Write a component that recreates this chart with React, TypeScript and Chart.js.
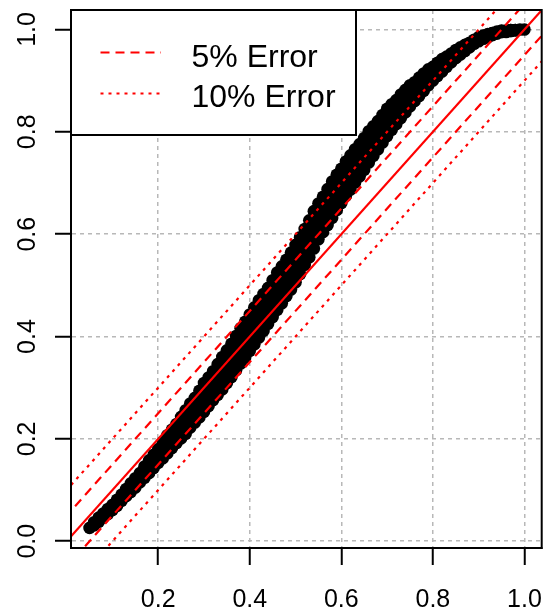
import { useEffect, useRef } from 'react';
import { Chart, registerables } from 'chart.js';

Chart.register(...registerables);

// Observations (band centre)
const xObs = [
  0.05, 0.06, 0.07, 0.08, 0.09, 0.10, 0.11, 0.12, 0.13, 0.14, 0.15, 0.16, 0.17, 0.18, 0.19, 0.20,
  0.21, 0.22, 0.23, 0.24, 0.25, 0.26, 0.27, 0.28, 0.29, 0.30, 0.31, 0.32, 0.33, 0.34, 0.35, 0.36,
  0.37, 0.38, 0.39, 0.40, 0.41, 0.42, 0.43, 0.44, 0.45, 0.46, 0.47, 0.48, 0.49, 0.50, 0.51, 0.52,
  0.53, 0.54, 0.55, 0.56, 0.57, 0.58, 0.59, 0.60, 0.61, 0.62, 0.63, 0.64, 0.65, 0.66, 0.67, 0.68,
  0.69, 0.70, 0.71, 0.72, 0.73, 0.74, 0.75, 0.76, 0.77, 0.78, 0.79, 0.80, 0.81, 0.82, 0.83, 0.84,
  0.85, 0.86, 0.87, 0.88, 0.89, 0.90, 0.91, 0.92, 0.93, 0.94, 0.95, 0.96, 0.97, 0.98, 0.99, 1.00,
];
const yObs = [
  0.026, 0.034, 0.042, 0.050, 0.058, 0.066, 0.075, 0.085, 0.095, 0.104, 0.114, 0.124, 0.135, 0.145, 0.156, 0.167,
  0.178, 0.189, 0.200, 0.211, 0.222, 0.233, 0.245, 0.256, 0.268, 0.280, 0.292, 0.304, 0.316, 0.328, 0.341, 0.354,
  0.367, 0.381, 0.394, 0.408, 0.421, 0.434, 0.447, 0.460, 0.474, 0.488, 0.501, 0.515, 0.528, 0.542, 0.558, 0.575,
  0.591, 0.608, 0.625, 0.639, 0.653, 0.667, 0.681, 0.695, 0.708, 0.720, 0.733, 0.745, 0.757, 0.770, 0.782, 0.794,
  0.806, 0.818, 0.829, 0.839, 0.850, 0.860, 0.870, 0.879, 0.888, 0.897, 0.906, 0.914, 0.922, 0.930, 0.937, 0.945,
  0.952, 0.958, 0.964, 0.970, 0.976, 0.981, 0.985, 0.988, 0.991, 0.994, 0.996, 0.997, 0.998, 0.999, 1.000, 1.000,
];

// Observations (outer band rows, even x)
const xEdge = [
  0.06, 0.08, 0.10, 0.12, 0.14, 0.16, 0.18, 0.20, 0.22, 0.24, 0.26, 0.28, 0.30, 0.32, 0.34, 0.36,
  0.38, 0.40, 0.42, 0.44, 0.46, 0.48, 0.50, 0.52, 0.54, 0.56, 0.58, 0.60, 0.62, 0.64, 0.66, 0.68,
  0.70, 0.72, 0.74, 0.76, 0.78, 0.80, 0.82, 0.84, 0.86, 0.88, 0.90, 0.92, 0.94, 0.96, 0.98,
];
const yEdgeUpper = [
  0.037, 0.054, 0.071, 0.091, 0.113, 0.133, 0.158, 0.180, 0.207, 0.229, 0.256, 0.280, 0.309, 0.332, 0.360, 0.386,
  0.416, 0.443, 0.471, 0.495, 0.525, 0.550, 0.579, 0.610, 0.645, 0.673, 0.703, 0.728, 0.754, 0.776, 0.801, 0.821,
  0.845, 0.862, 0.882, 0.897, 0.914, 0.927, 0.942, 0.953, 0.965, 0.974, 0.985, 0.991, 0.996, 0.998, 0.999,
];
const yEdgeLower = [
  0.031, 0.046, 0.061, 0.079, 0.096, 0.115, 0.133, 0.153, 0.172, 0.192, 0.210, 0.232, 0.253, 0.276, 0.297, 0.321,
  0.347, 0.372, 0.398, 0.425, 0.452, 0.479, 0.506, 0.540, 0.572, 0.604, 0.632, 0.661, 0.687, 0.713, 0.740, 0.766,
  0.792, 0.815, 0.838, 0.860, 0.880, 0.900, 0.918, 0.936, 0.951, 0.965, 0.977, 0.985, 0.992, 0.995, 0.998,
];

// Observations (odd x: inner and outer rows)
const xOdd = [
  0.07, 0.09, 0.11, 0.13, 0.15, 0.17, 0.19, 0.21, 0.23, 0.25, 0.27, 0.29, 0.31, 0.33, 0.35, 0.37,
  0.39, 0.41, 0.43, 0.45, 0.47, 0.49, 0.51, 0.53, 0.55, 0.57, 0.59, 0.61, 0.63, 0.65, 0.67, 0.69,
  0.71, 0.73, 0.75, 0.77, 0.79, 0.81, 0.83, 0.85, 0.87, 0.89, 0.91, 0.93, 0.95, 0.97,
];
const yInnerUpper = [
  0.044, 0.060, 0.078, 0.099, 0.119, 0.141, 0.163, 0.186, 0.209, 0.233, 0.257, 0.281, 0.306, 0.331, 0.357, 0.384,
  0.412, 0.439, 0.465, 0.492, 0.519, 0.546, 0.576, 0.609, 0.643, 0.671, 0.698, 0.725, 0.749, 0.773, 0.797, 0.820,
  0.842, 0.862, 0.880, 0.897, 0.914, 0.929, 0.942, 0.956, 0.967, 0.978, 0.987, 0.993, 0.997, 0.999,
];
const yInnerLower = [
  0.040, 0.056, 0.072, 0.091, 0.110, 0.129, 0.150, 0.170, 0.191, 0.212, 0.233, 0.255, 0.278, 0.301, 0.325, 0.350,
  0.377, 0.403, 0.429, 0.456, 0.483, 0.510, 0.540, 0.573, 0.607, 0.636, 0.664, 0.691, 0.717, 0.742, 0.768, 0.793,
  0.817, 0.839, 0.860, 0.879, 0.899, 0.916, 0.932, 0.948, 0.961, 0.974, 0.983, 0.990, 0.995, 0.997,
];
const yOuterUpper = [
  0.046, 0.063, 0.081, 0.102, 0.123, 0.146, 0.169, 0.194, 0.218, 0.243, 0.269, 0.294, 0.320, 0.346, 0.373, 0.401,
  0.429, 0.457, 0.483, 0.510, 0.537, 0.564, 0.594, 0.627, 0.660, 0.688, 0.716, 0.742, 0.766, 0.788, 0.811, 0.833,
  0.854, 0.873, 0.891, 0.906, 0.922, 0.935, 0.947, 0.960, 0.970, 0.980, 0.988, 0.993, 0.998, 0.999,
];
const yOuterLower = [
  0.038, 0.053, 0.069, 0.088, 0.105, 0.124, 0.143, 0.162, 0.182, 0.201, 0.222, 0.242, 0.264, 0.286, 0.309, 0.334,
  0.359, 0.385, 0.411, 0.438, 0.465, 0.492, 0.522, 0.555, 0.590, 0.618, 0.647, 0.675, 0.701, 0.726, 0.753, 0.779,
  0.804, 0.827, 0.850, 0.870, 0.891, 0.909, 0.927, 0.944, 0.958, 0.972, 0.982, 0.989, 0.995, 0.997,
];

// Reference lines (y = x, ±5 %, ±10 %)
const refX = [-0.2, 1.2];
const refY = [-0.2, 1.2];
const err5UpperY = [-0.15, 1.25];
const err5LowerY = [-0.25, 1.15];
const err10UpperY = [-0.1, 1.3];
const err10LowerY = [-0.3, 1.1];

const xTicks = [0.2, 0.4, 0.6, 0.8, 1.0];
const yTicks = [0.0, 0.2, 0.4, 0.6, 0.8, 1.0];
const legendLabels = ['5% Error', '10% Error'];

const FONT = "'Liberation Sans', Arial, Helvetica, sans-serif";
const RED = '#ff0000';
const DASH5 = [9, 6];
const DASH10 = [3, 5];

const toXY = (xs: number[], ys: number[]) => xs.map((x, i) => ({ x, y: ys[i] }));

const boxLegendPlugin = {
  id: 'boxLegend',
  afterDraw(chart: any) {
    const { ctx, chartArea: a } = chart;
    ctx.save();
    ctx.setLineDash([]);
    ctx.strokeStyle = '#000';
    ctx.lineWidth = 2;
    ctx.strokeRect(a.left, a.top, a.right - a.left, a.bottom - a.top);

    const lx = a.left;
    const ly = a.top;
    const lw = 285;
    const lh = 125;
    ctx.fillStyle = '#fff';
    ctx.fillRect(lx, ly, lw, lh);
    ctx.strokeRect(lx, ly, lw, lh);

    const rows = [
      { label: legendLabels[0], dash: DASH5, lineY: 52.5, baseY: 66.5 },
      { label: legendLabels[1], dash: DASH10, lineY: 93.5, baseY: 106.5 },
    ];
    rows.forEach((r) => {
      ctx.beginPath();
      ctx.setLineDash(r.dash);
      ctx.strokeStyle = RED;
      ctx.lineWidth = 2.2;
      ctx.moveTo(100.5, r.lineY);
      ctx.lineTo(161, r.lineY);
      ctx.stroke();
      ctx.setLineDash([]);
      ctx.fillStyle = '#000';
      ctx.font = `32px ${FONT}`;
      ctx.textAlign = 'left';
      ctx.textBaseline = 'alphabetic';
      ctx.fillText(r.label, 191.5, r.baseY);
    });
    ctx.restore();
  },
};

export default function App() {
  const ref = useRef<HTMLCanvasElement | null>(null);

  useEffect(() => {
    if (!ref.current) return;
    Chart.defaults.font.family = FONT;

    const lineDs = (label: string, ys: number[], dash: number[], order: number) => ({
      type: 'scatter' as const,
      label,
      data: toXY(refX, ys),
      showLine: true,
      borderColor: RED,
      backgroundColor: RED,
      borderWidth: 2.2,
      borderDash: dash,
      pointRadius: 0,
      pointHoverRadius: 0,
      clip: 0,
      order,
    });

    const chart = new Chart(ref.current, {
      type: 'scatter',
      data: {
        datasets: [
          {
            label: 'Observations',
            data: [
              ...toXY(xObs, yObs),
              ...toXY(xEdge, yEdgeUpper),
              ...toXY(xEdge, yEdgeLower),
              ...toXY(xOdd, yInnerUpper),
              ...toXY(xOdd, yInnerLower),
              ...toXY(xOdd, yOuterUpper),
              ...toXY(xOdd, yOuterLower),
            ],
            pointRadius: 6.3,
            pointHoverRadius: 6.3,
            backgroundColor: '#000',
            borderWidth: 0,
            order: 10,
          },
          lineDs('Exact', refY, [], 1),
          lineDs('5% Error upper', err5UpperY, DASH5, 2),
          lineDs('5% Error lower', err5LowerY, DASH5, 3),
          lineDs('10% Error upper', err10UpperY, DASH10, 4),
          lineDs('10% Error lower', err10LowerY, DASH10, 5),
        ] as any,
      },
      options: {
        responsive: false,
        animation: false,
        devicePixelRatio: 1,
        layout: { padding: { top: 10, right: 2, left: 0, bottom: 0 } },
        plugins: { legend: { display: false }, tooltip: { enabled: false } },
        scales: {
          x: {
            type: 'linear',
            min: 0.0095,
            max: 1.0377,
            z: 1,
            afterBuildTicks: (s: any) => {
              s.ticks = xTicks.map((v) => ({ value: v }));
            },
            afterFit: (s: any) => {
              s.height = 65;
              s.paddingLeft = 0;
              s.paddingRight = 0;
              s.paddingTop = 0;
              s.paddingBottom = 0;
            },
            grid: {
              color: '#b8b8b8',
              lineWidth: 1.5,
              drawTicks: true,
              tickLength: 17,
              tickColor: '#000',
              tickWidth: 2,
              tickBorderDash: [],
            },
            border: { display: true, color: '#000', width: 2, dash: [4, 4] },
            ticks: {
              color: '#000',
              font: { size: 25, lineHeight: 1, family: FONT },
              padding: 23,
              autoSkip: false,
              maxRotation: 0,
              minRotation: 0,
              callback: (v: any) => Number(v).toFixed(1),
            },
          },
          y: {
            type: 'linear',
            min: -0.0133,
            max: 1.0381,
            z: 1,
            afterBuildTicks: (s: any) => {
              s.ticks = yTicks.map((v) => ({ value: v }));
            },
            afterFit: (s: any) => {
              s.width = 71;
              s.paddingLeft = 0;
              s.paddingRight = 0;
              s.paddingTop = 0;
              s.paddingBottom = 0;
            },
            grid: {
              color: '#b8b8b8',
              lineWidth: 1.5,
              drawTicks: true,
              tickLength: 16,
              tickColor: '#000',
              tickWidth: 2,
              tickBorderDash: [],
            },
            border: { display: true, color: '#000', width: 2, dash: [4, 4] },
            ticks: {
              color: '#000',
              font: { size: 25, lineHeight: 1, family: FONT },
              padding: 10,
              minRotation: 90,
              maxRotation: 90,
              crossAlign: 'center',
              autoSkip: false,
              callback: (v: any) => Number(v).toFixed(1),
            },
          },
        },
      } as any,
      plugins: [boxLegendPlugin],
    });

    return () => chart.destroy();
  }, []);

  return (
    <div style={{ position: 'fixed', left: 0, top: 0, width: 548, height: 613, background: '#fff' }}>
      <canvas ref={ref} width={548} height={613} style={{ display: 'block' }} />
    </div>
  );
}
